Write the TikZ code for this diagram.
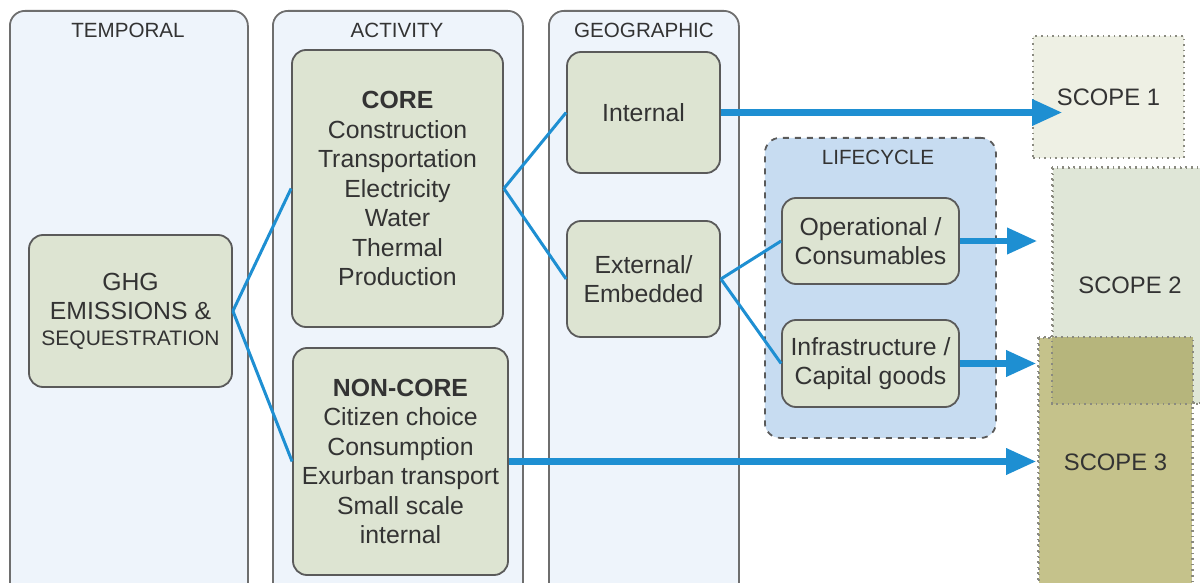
\documentclass[tikz,border=0pt]{standalone}
\usepackage{fontspec}
\setmainfont{Liberation Sans}
\usetikzlibrary{arrows.meta}
\definecolor{panelfill}{HTML}{EEF4FB}
\definecolor{panelline}{HTML}{6E6E6E}
\definecolor{boxfill}{HTML}{DDE4D2}
\definecolor{boxline}{HTML}{5A5A5A}
\definecolor{lcfill}{HTML}{C7DCF1}
\definecolor{link}{HTML}{1E8FD2}
\definecolor{sone}{HTML}{EEF0E4}
\definecolor{stwo}{HTML}{DFE6D7}
\definecolor{sthree}{HTML}{C5C28B}
\definecolor{sover}{HTML}{B6B57C}
\definecolor{txt}{HTML}{333333}
\definecolor{dotline}{HTML}{8A8A80}
\begin{document}
\begin{tikzpicture}[x=0.5pt,y=-0.5pt,
  panel/.style={draw=panelline, fill=panelfill, line width=0.9pt, rounded corners=7.5pt, inner sep=0pt, anchor=north west},
  lcpanel/.style={draw=boxline, fill=lcfill, line width=0.9pt, dashed, rounded corners=7.5pt, inner sep=0pt, anchor=north west},
  box/.style={draw=boxline, fill=boxfill, line width=0.9pt, rounded corners=7pt, align=center,
    font=\fontsize{12.4}{14.75}\selectfont, text=txt, inner sep=0pt},
  plabel/.style={font=\fontsize{10.3}{12}\selectfont, text=txt},
  thinlink/.style={draw=link, line width=1.5pt},
  bigarrow/.style={draw=link, line width=3.2pt, -{Triangle[length=15pt,width=12.5pt]}},
  scopebox/.style={draw=dotline, dotted, line width=0.8pt, inner sep=0pt, font=\fontsize{11.9}{14}\selectfont, text=txt},
  scopeline/.style={draw=dotline, dotted, line width=0.8pt}]
\useasboundingbox (0,0) rectangle (1200,583);
\clip (0,0) rectangle (1200,583);

% panels
\node[panel, minimum width=119pt, minimum height=305pt] (temporal) at (9,10) {};
\node[panel, minimum width=125pt, minimum height=305pt] (activity) at (272,10) {};
\node[panel, minimum width=95pt, minimum height=305pt] (geographic) at (548,10) {};
\node[plabel] (ltemporal) at (128,30) {TEMPORAL};
\node[plabel] (lactivity) at (397,30) {ACTIVITY};
\node[plabel] (lgeographic) at (644,30) {GEOGRAPHIC};

\node[lcpanel, minimum width=115.5pt, minimum height=150pt] (lifecycle) at (764,137) {};
\node[plabel] (llifecycle) at (878,157) {LIFECYCLE};

% scopes
\node[scopebox, fill=sone, minimum width=75.5pt, minimum height=61pt] (scope1) at (1108.5,97) {SCOPE 1};
\node[scopebox, fill=stwo, minimum width=77pt, minimum height=117.5pt] (scope2) at (1130,285.5) {SCOPE 2};
\node[scopebox, fill=sthree, minimum width=76.5pt, minimum height=124pt] (scope3) at (1115.5,462) {SCOPE 3};
\fill[sover] (scope2.south west) rectangle (scope3.north east);
\draw[scopeline] (scope2.north west) rectangle (scope2.south east);
\draw[scopeline] (scope3.north west) rectangle (scope3.south east);

% boxes
\node[box, minimum width=101.5pt, minimum height=76pt] (ghg) at (130.5,311)
  {GHG\\[0.1pt]EMISSIONS \&\\[-2pt]{\fontsize{10.5}{12}\selectfont SEQUESTRATION}};
\node[box, minimum width=105.5pt, minimum height=138.5pt] (core) at (397.5,188.5)
  {\textbf{CORE}\\Construction\\Transportation\\Electricity\\Water\\Thermal\\Production};
\node[box, minimum width=107.5pt, minimum height=113.5pt] (noncore) at (400.5,461.5)
  {\textbf{NON-CORE}\\Citizen choice\\Consumption\\Exurban transport\\Small scale\\internal};
\node[box, minimum width=76.5pt, minimum height=60.5pt] (internal) at (643.5,112.5) {Internal};
\node[box, minimum width=76.5pt, minimum height=58pt] (external) at (643.5,279) {External/\\Embedded};
\node[box, minimum width=88.5pt, minimum height=43pt] (operational) at (870.5,241) {Operational /\\Consumables};
\node[box, minimum width=88.5pt, minimum height=43.5pt] (infra) at (870.5,363.5) {Infrastructure /\\Capital goods};

% thin links
\draw[thinlink] (ghg.east) -- (core.west);
\draw[thinlink] (ghg.east) -- (noncore.west);
\draw[thinlink] (core.east) -- (internal.west);
\draw[thinlink] (core.east) -- (external.west);
\draw[thinlink] (external.east) -- (operational.west);
\draw[thinlink] (external.east) -- (infra.west);

% big arrows
\draw[bigarrow, shorten >=-15pt] (internal.east) -- (internal.east -| scope1.west);
\draw[bigarrow, shorten >=7.5pt] (operational.east) -- (operational.east -| scope2.west);
\draw[bigarrow, shorten >=1pt] (infra.east) -- (infra.east -| scope3.west);
\draw[bigarrow, shorten >=1pt] (noncore.east) -- (noncore.east -| scope3.west);
\end{tikzpicture}
\end{document}
